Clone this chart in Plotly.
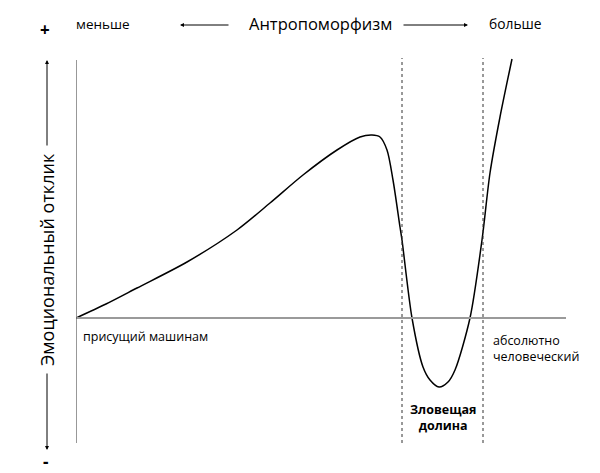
import plotly.graph_objects as go

# Curve: anthropomorphism (x) vs emotional response (y), arbitrary units
anthro = [0, 30, 61, 111, 161, 194, 227, 261, 284, 296, 304, 311, 317, 324, 326, 336, 347, 354, 363, 372, 379, 394, 406, 414, 424, 436]
response = [0, 14, 30, 56, 88, 115, 143, 168, 181, 183, 181, 168, 138, 91, 78, 0, -49, -62, -69, -64, -52, 0, 78, 145, 201, 259]

valley_bounds = [326, 407]
x_range = [0, 490]
y_range = [-125, 260]

FONT = "Open Sans"
# the page body has a default 8px margin; compensate so the plot lands where the reference has it
OFF = 8

fig = go.Figure()
fig.add_trace(go.Scatter(x=anthro, y=response, mode="lines",
                         line=dict(color="black", width=1.5, shape="spline", smoothing=0.8),
                         hoverinfo="skip", showlegend=False))

# horizontal baseline
fig.add_shape(type="line", x0=0, x1=x_range[1], y0=0, y1=0, xref="x", yref="y",
              line=dict(color="#9a9a9a", width=2))
# vertical axis
fig.add_shape(type="line", x0=0, x1=0, y0=y_range[0], y1=258, xref="x", yref="y",
              line=dict(color="#333", width=1))
# valley boundaries
for xv in valley_bounds:
    fig.add_shape(type="line", x0=xv, x1=xv, y0=y_range[0], y1=260, xref="x", yref="y",
                  line=dict(color="#333", width=1, dash="3px,3px"))

def px(x):
    return (x - x_range[0]) / (x_range[1] - x_range[0])

def py(y):
    return (y - y_range[0]) / (y_range[1] - y_range[0])

def txt(x, y, s, size=12.5, anchor="left", bold=False, angle=0, align="left"):
    fig.add_annotation(x=px(x), y=py(y), xref="paper", yref="paper",
                       text=("<b>%s</b>" % s) if bold else s, align=align,
                       showarrow=False, xanchor=anchor, yanchor="middle", textangle=angle,
                       font=dict(family=FONT, size=size, color="black"))

txt(-31, 289, "<b>+</b>", size=17, anchor="center")
txt(-31, -143, "<b>-</b>", size=17, anchor="center")
txt(-2, 294, "меньше", size=13.5)
txt(244, 295, "Антропоморфизм", size=16.5, anchor="center")
txt(411, 294, "больше", size=13.8)
txt(5, -18, "присущий машинам", size=12.5)
txt(415, -30, "абсолютно<br>человеческий", size=12.5)
txt(367, -99, "Зловещая<br>долина", size=12.5, anchor="center", bold=True, align="center")
txt(-29, 58, "Эмоциональный отклик", size=18, anchor="center", angle=-90)

def arrow(x, y, ax, ay):
    fig.add_annotation(x=px(x), y=py(y), xref="paper", yref="paper", ax=ax, ay=ay, text="",
                       showarrow=True, arrowhead=2, arrowsize=0.8, arrowwidth=1, arrowcolor="black")

arrow(104, 293, 50, 0)
arrow(392, 293, -66, 0)
arrow(-29, 258, 0, 87)
arrow(-29, -132, 0, -78)

fig.update_layout(
    width=600, height=473,
    margin=dict(l=76 - OFF, r=34 + OFF, t=58 - OFF, b=30 + OFF),
    paper_bgcolor="white", plot_bgcolor="white",
    xaxis=dict(range=x_range, visible=False, fixedrange=True),
    yaxis=dict(range=y_range, visible=False, fixedrange=True),
    showlegend=False,
)
fig.write_html("out.html")
